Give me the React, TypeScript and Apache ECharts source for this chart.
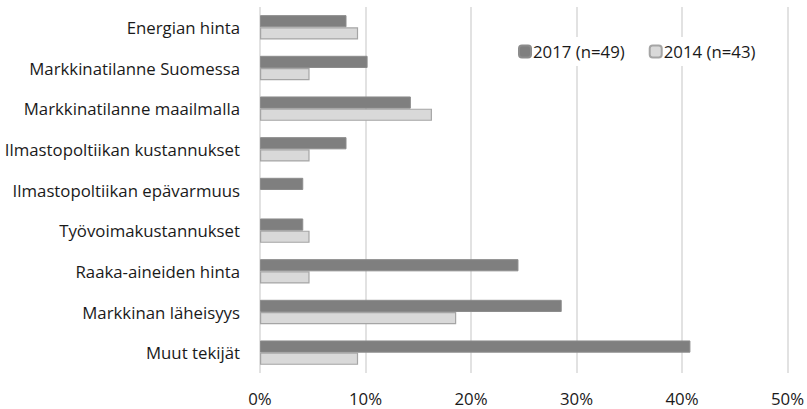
import React, { useEffect, useRef } from "react";
import * as echarts from "echarts";

// Factors, listed top to bottom
const categories = [
  "Energian hinta",
  "Markkinatilanne Suomessa",
  "Markkinatilanne maailmalla",
  "Ilmastopoltiikan kustannukset",
  "Ilmastopoltiikan epävarmuus",
  "Työvoimakustannukset",
  "Raaka-aineiden hinta",
  "Markkinan läheisyys",
  "Muut tekijät",
];

// Share of respondents, percent
const values2017 = [8.2, 10.2, 14.3, 8.2, 4.1, 4.1, 24.5, 28.6, 40.8];
const values2014 = [9.3, 4.7, 16.3, 4.7, 0, 4.7, 4.7, 18.6, 9.3];

const seriesNames = ["2017 (n=49)", "2014 (n=43)"];
const xTicks = [0, 10, 20, 30, 40, 50];

const FONT = "'Open Sans', Lato, sans-serif";
const TEXT = "#1a1a1a";

// Zero-valued bars get no outline so nothing is drawn for them
const barData = (vals: number[]) =>
  vals.map((v) => (v === 0 ? { value: v, itemStyle: { borderWidth: 0 } } : v));

export default function App() {
  const ref = useRef<HTMLDivElement>(null);

  useEffect(() => {
    if (!ref.current) return;
    const chart = echarts.init(ref.current, null, { renderer: "svg" });
    chart.setOption({
      animation: false,
      backgroundColor: "#ffffff",
      textStyle: { fontFamily: FONT },
      grid: { left: 260, right: 18, top: 7, bottom: 36, containLabel: false },
      legend: {
        data: seriesNames,
        left: 514,
        top: 37,
        itemWidth: 12,
        itemHeight: 12,
        itemGap: 24,
        padding: [6, 6, 6, 4],
        backgroundColor: "#ffffff",
        textStyle: { fontFamily: FONT, fontSize: 16.8, color: TEXT, padding: [0, 0, 0, -3] },
      },
      xAxis: {
        type: "value",
        min: xTicks[0],
        max: xTicks[xTicks.length - 1],
        interval: 10,
        axisLine: { show: false },
        axisTick: { show: false },
        axisLabel: {
          formatter: (v: number) => `${v}%`,
          fontFamily: FONT,
          fontSize: 16.8,
          color: TEXT,
          margin: 17,
        },
        splitLine: { show: true, lineStyle: { color: "#d9d9d9", width: 1.5 } },
      },
      yAxis: {
        type: "category",
        data: categories,
        inverse: true,
        axisLine: { show: false },
        axisTick: { show: false },
        axisLabel: {
          fontFamily: FONT,
          fontSize: 16.8,
          color: TEXT,
          margin: 20,
        },
      },
      series: [
        {
          name: seriesNames[0],
          type: "bar",
          data: barData(values2017),
          barGap: "0%",
          barCategoryGap: "40%",
          itemStyle: { color: "#7f7f7f", borderColor: "#8c8c8c", borderWidth: 1 },
          z: 3,
        },
        {
          name: seriesNames[1],
          type: "bar",
          data: barData(values2014),
          itemStyle: { color: "#d9d9d9", borderColor: "#a5a5a5", borderWidth: 1.2 },
          z: 3,
        },
      ],
    });
    return () => chart.dispose();
  }, []);

  return <div ref={ref} style={{ width: 807, height: 409, position: "absolute", left: 0, top: 0 }} />;
}
